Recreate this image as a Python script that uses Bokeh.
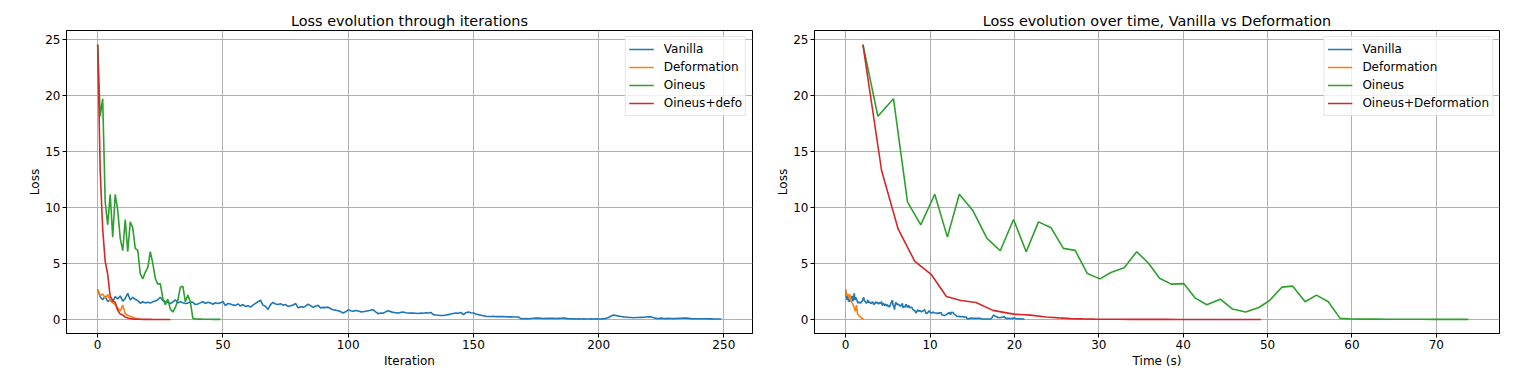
from bokeh.plotting import figure
from bokeh.layouts import row
from bokeh.models import Range1d, FixedTicker, Legend, LegendItem
from bokeh.embed import file_html
from bokeh.resources import INLINE
import numpy as np

# ---------------- data ----------------
vanilla_loss = [
    2.68, 2.05, 1.78, 2.10, 1.62, 1.75, 1.60, 2.05, 1.85, 2.12,
    1.65, 1.90, 2.36, 1.75, 2.00, 1.82, 1.70, 1.47, 1.60, 1.50,
    1.55, 1.48, 1.60, 1.66, 1.78, 2.00, 1.72, 1.62, 1.55, 1.45,
    1.58, 1.77, 1.50, 1.60, 1.52, 1.45, 1.48, 1.58, 1.55, 1.35,
    1.40, 1.50, 1.60, 1.45, 1.55, 1.50, 1.38, 1.52, 1.45, 1.50,
    1.62, 1.25, 1.45, 1.40, 1.30, 1.28, 1.40, 1.22, 1.35, 1.18,
    1.25, 1.12, 1.30, 1.45, 1.60, 1.75, 1.30, 1.20, 0.90, 1.35,
    1.55, 1.40, 1.35, 1.42, 1.30, 1.35, 1.18, 1.25, 1.30, 1.45,
    1.05, 1.15, 1.12, 1.20, 1.38, 1.25, 1.10, 1.20, 1.28, 1.05,
    1.10, 1.08, 1.12, 0.98, 0.88, 0.85, 0.80, 0.72, 0.60, 0.70,
    0.88, 0.80, 0.75, 0.82, 0.78, 0.70, 0.72, 0.75, 0.80, 0.85,
    0.88, 0.70, 0.53, 0.60, 0.58, 0.70, 0.80, 0.72, 0.65, 0.62,
    0.59, 0.65, 0.68, 0.62, 0.60, 0.59, 0.60, 0.58, 0.55, 0.60,
    0.58, 0.62, 0.60, 0.65, 0.45, 0.42, 0.40, 0.38, 0.38, 0.42,
    0.45, 0.50, 0.55, 0.60, 0.58, 0.65, 0.45, 0.62, 0.68, 0.62,
    0.60, 0.50, 0.45, 0.40, 0.35, 0.30, 0.29, 0.28, 0.30, 0.27,
    0.28, 0.27, 0.28, 0.26, 0.25, 0.25, 0.24, 0.24, 0.24, 0.09,
    0.09, 0.10, 0.09, 0.11, 0.13, 0.14, 0.15, 0.13, 0.11, 0.12,
    0.12, 0.13, 0.12, 0.11, 0.12, 0.13, 0.14, 0.12, 0.09, 0.08,
    0.07, 0.06, 0.07, 0.06, 0.07, 0.06, 0.06, 0.07, 0.06, 0.07,
    0.06, 0.07, 0.09, 0.12, 0.20, 0.33, 0.41, 0.38, 0.32, 0.28,
    0.25, 0.24, 0.20, 0.19, 0.18, 0.19, 0.20, 0.21, 0.22, 0.24,
    0.26, 0.25, 0.18, 0.12, 0.10, 0.14, 0.11, 0.10, 0.12, 0.11,
    0.10, 0.11, 0.12, 0.13, 0.15, 0.14, 0.12, 0.10, 0.09, 0.09,
    0.09, 0.08, 0.09, 0.08, 0.07, 0.07, 0.06, 0.06, 0.06, 0.06,
]
vanilla_total_time = 21.2  # seconds, end of the Vanilla run

deformation_loss = [2.70, 2.15, 2.30, 1.90, 2.25, 1.70, 1.50, 1.35, 1.05,
                    0.75, 1.30, 0.55, 0.40, 0.30, 0.22, 0.12, 0.08, 0.05]
deformation_total_time = 2.17

oineus_loss = [24.55, 18.13, 19.70, 10.50, 8.46, 11.18, 7.36, 11.18, 9.76, 7.25,
               6.15, 8.93, 6.06, 8.72, 8.19, 6.36, 6.18, 4.11, 3.64, 4.23,
               4.64, 6.06, 5.03, 3.70, 3.17, 3.22, 1.92, 1.33, 1.83, 0.95,
               0.68, 1.09, 1.71, 2.90, 2.99, 1.60, 2.19, 1.60, 0.12, 0.06,
               0.05, 0.05, 0.04, 0.04, 0.04, 0.04, 0.03, 0.03, 0.03, 0.03]
oineus_time = [2.05, 3.82, 5.67, 7.33, 8.90, 10.56, 12.06, 13.47, 15.05, 16.75,
               18.32, 19.90, 21.40, 22.85, 24.35, 25.80, 27.20, 28.65, 30.14, 31.50,
               33.00, 34.50, 35.90, 37.20, 38.60, 40.07, 41.45, 42.80, 44.40, 45.85,
               47.40, 48.97, 50.24, 51.70, 52.99, 54.46, 55.80, 57.20, 58.60, 60.00,
               61.40, 62.80, 64.10, 65.50, 66.90, 68.30, 69.60, 71.00, 72.40, 73.80]

oineus_defo_loss = [24.50, 13.30, 8.07, 5.20, 4.05, 2.07, 1.71, 1.54, 0.83, 0.50,
                    0.41, 0.24, 0.16, 0.10, 0.07, 0.05, 0.04, 0.04, 0.03, 0.03,
                    0.03, 0.03, 0.02, 0.02, 0.02, 0.02, 0.02, 0.02, 0.02, 0.02]
oineus_defo_time = [2.05, 4.26, 6.23, 8.20, 10.13, 11.94, 13.67, 15.45, 17.46, 19.90,
                    21.90, 23.80, 25.30, 26.70, 28.10, 29.50, 30.90, 32.30, 33.70, 35.10,
                    36.60, 38.00, 39.40, 40.80, 42.20, 43.60, 45.00, 46.40, 47.80, 49.20]

colors = ["#1f77b4", "#ff7f0e", "#2ca02c", "#d62728"]
labels_left = ["Vanilla", "Deformation", "Oineus", "Oineus+defo"]
labels_right = ["Vanilla", "Deformation", "Oineus", "Oineus+Deformation"]
x_ticks_left = [0, 50, 100, 150, 200, 250]
x_ticks_right = [0, 10, 20, 30, 40, 50, 60, 70]
y_ticks = [0, 5, 10, 15, 20, 25]

FONT = "DejaVu Sans"
LW = 1.6
FS = "12px"


def style(p, xlabel, ylabel, xticks):
    p.title.text_font = FONT
    p.title.text_font_size = "14.4px"
    p.title.text_font_style = "normal"
    p.title.text_color = "black"
    p.title.align = "center"
    p.title.standoff = 4
    p.background_fill_color = "white"
    p.border_fill_color = "white"
    p.outline_line_color = "black"
    p.outline_line_width = 1
    p.outline_line_alpha = 1
    for ax in (p.xaxis[0], p.yaxis[0]):
        ax.axis_line_color = "black"
        ax.major_tick_line_color = "black"
        ax.major_tick_in = 0
        ax.major_tick_out = 4
        ax.minor_tick_line_color = None
        ax.major_label_text_font = FONT
        ax.major_label_text_font_size = FS
        ax.major_label_text_color = "black"
        ax.major_label_standoff = 2
        ax.axis_label_text_font = FONT
        ax.axis_label_text_font_size = FS
        ax.axis_label_text_font_style = "normal"
        ax.axis_label_text_color = "black"
    p.xaxis[0].axis_label_standoff = 2
    p.yaxis[0].axis_label_standoff = 0
    p.xaxis[0].axis_label = xlabel
    p.yaxis[0].axis_label = ylabel
    p.xaxis[0].ticker = FixedTicker(ticks=xticks)
    p.yaxis[0].ticker = FixedTicker(ticks=y_ticks)
    for g in (p.xgrid[0], p.ygrid[0]):
        g.grid_line_color = "#b0b0b0"
        g.grid_line_width = 1
    p.xgrid[0].ticker = FixedTicker(ticks=xticks)
    p.ygrid[0].ticker = FixedTicker(ticks=y_ticks)


def add_legend(p, renderers, labels):
    items = [LegendItem(label=l, renderers=[r]) for l, r in zip(labels, renderers)]
    leg = Legend(items=items, location="top_right")
    leg.label_text_font = FONT
    leg.label_text_font_size = FS
    leg.label_text_color = "black"
    leg.label_height = 18
    leg.glyph_height = 18
    leg.glyph_width = 25
    leg.spacing = 0
    leg.padding = 3
    leg.margin = 6
    leg.label_standoff = 10
    leg.border_line_color = "#cccccc"
    leg.border_line_width = 1
    leg.background_fill_color = "white"
    leg.background_fill_alpha = 0.8
    p.add_layout(leg, "center")


# ---------------- left figure: loss vs iteration ----------------
p1 = figure(width=760, height=372, output_backend="svg", toolbar_location=None,
            title="Loss evolution through iterations",
            x_range=Range1d(-12.45, 261.45), y_range=Range1d(-1.23, 25.78),
            min_border_left=66, min_border_right=8, min_border_top=30,
            min_border_bottom=39)
style(p1, "Iteration", "Loss", x_ticks_left)
series_left = [
    (list(range(len(vanilla_loss))), vanilla_loss),
    (list(range(len(deformation_loss))), deformation_loss),
    (list(range(len(oineus_loss))), oineus_loss),
    (list(range(len(oineus_defo_loss))), oineus_defo_loss),
]
rs1 = [p1.line(x, y, line_color=c, line_width=LW) for (x, y), c in zip(series_left, colors)]
add_legend(p1, rs1, labels_left)

# ---------------- right figure: loss vs time ----------------
p2 = figure(width=752, height=372, output_backend="svg", toolbar_location=None,
            title="Loss evolution over time, Vanilla vs Deformation",
            x_range=Range1d(-3.69, 77.49), y_range=Range1d(-1.23, 25.78),
            min_border_left=54, min_border_right=13, min_border_top=30,
            min_border_bottom=39)
style(p2, "Time (s)", "Loss", x_ticks_right)
vanilla_time = np.linspace(0, vanilla_total_time, len(vanilla_loss))
deformation_time = np.linspace(0, deformation_total_time, len(deformation_loss))
series_right = [
    (vanilla_time, vanilla_loss),
    (deformation_time, deformation_loss),
    (oineus_time, oineus_loss),
    (oineus_defo_time, oineus_defo_loss),
]
rs2 = [p2.line(x, y, line_color=c, line_width=LW) for (x, y), c in zip(series_right, colors)]
add_legend(p2, rs2, labels_right)

layout = row(p1, p2)
open("out.html", "w").write(file_html(layout, INLINE))
